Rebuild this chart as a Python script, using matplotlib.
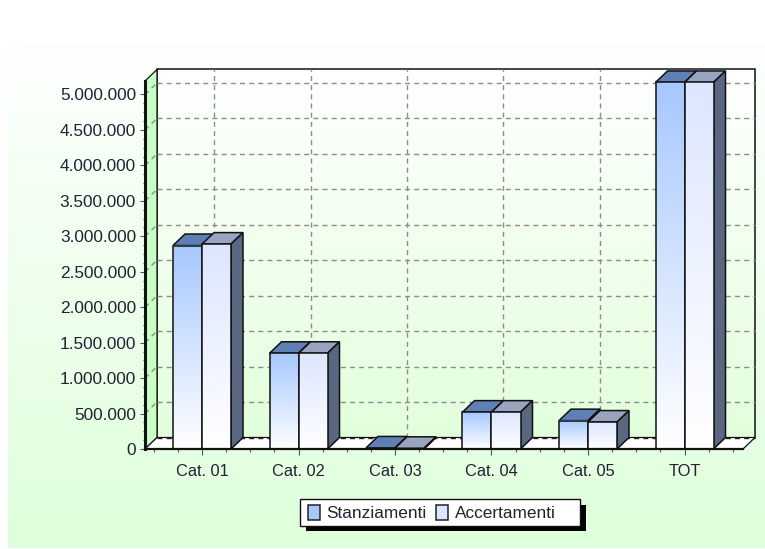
import numpy as np
import matplotlib
matplotlib.use('Agg')
import matplotlib.pyplot as plt
from matplotlib.patches import Polygon, Rectangle

categories = ['Cat. 01', 'Cat. 02', 'Cat. 03', 'Cat. 04', 'Cat. 05', 'TOT']
stanziamenti = [2870000, 1350000, 15000, 520000, 400000, 5170000]
accertamenti = [2890000, 1350000, 10000, 520000, 380000, 5170000]
y_ticks = [0, 500000, 1000000, 1500000, 2000000, 2500000, 3000000, 3500000, 4000000, 4500000, 5000000]
y_labels = ['0', '500.000', '1.000.000', '1.500.000', '2.000.000', '2.500.000',
            '3.000.000', '3.500.000', '4.000.000', '4.500.000', '5.000.000']

W, H = 765, 549
px = 72 / 100  # da pixel a punti
plt.rcParams['font.family'] = ['Liberation Sans', 'DejaVu Sans']
plt.rcParams['font.size'] = 16.4 * px

fig = plt.figure(figsize=(W / 100, H / 100), dpi=100, facecolor='white')

# sfondo a gradiente, in pixel
bg = fig.add_axes([0, 0, 1, 1], zorder=0)
grad = np.linspace(0, 1, 256).reshape(-1, 1)
c_top = np.array([1, 1, 1])
c_bot = np.array([0xde, 0xff, 0xdb]) / 255
bg.imshow(c_top + (c_bot - c_top) * np.clip((grad[..., None] - 0.05) / 0.95, 0, 1),
          extent=[8, W, 548, 0], aspect='auto')
bg.set_xlim(0, W)
bg.set_ylim(H, 0)
bg.axis('off')

# piano frontale del grafico
left, right, top, bottom = 145, 743, 81, 449
depth_x, depth_y = 12, 11.5
ax = fig.add_axes([left / W, 1 - bottom / H, (right - left) / W, (bottom - top) / H], zorder=1)
ax.patch.set_alpha(0)
for s in ax.spines.values():
    s.set_visible(False)
ax.set_xlim((left - 202) / 96.5, (right - 202) / 96.5)
ax.set_ylim(0, (bottom - top) / 354.5 * 5000000)

x0, x1 = ax.get_xlim()
y0, y1 = ax.get_ylim()
dx = depth_x * (x1 - x0) / (right - left)
dy = depth_y * (y1 - y0) / (bottom - top)

# pareti
c_wall_bot = np.array([0xe2, 0xff, 0xdc]) / 255
ax.imshow(c_top + (c_wall_bot - c_top) * grad[..., None],
          extent=[x0 + dx, x1 + dx, y0 + dy, y1 + dy], aspect='auto', zorder=1, clip_on=False)
ax.set_xlim(x0, x1)
ax.set_ylim(y0, y1)
ax.add_patch(Rectangle((x0 + dx, y0 + dy), x1 - x0, y1 - y0, fc='none', ec='#111111', lw=1.1,
                       zorder=2, clip_on=False))
ax.add_patch(Polygon([(x0, y0), (x0 + dx, y0 + dy), (x0 + dx, y1 + dy), (x0, y1)],
                     fc='#c8ffc4', ec='#111111', lw=0.9, zorder=2, clip_on=False))
ax.add_patch(Polygon([(x0, y0), (x0 + dx, y0 + dy), (x1 + dx, y0 + dy), (x1, y0)],
                     fc='white', ec='#111111', lw=0.9, zorder=2, clip_on=False))

# griglia tratteggiata
grid_style = dict(color='#8c8c8c', lw=1.0, dashes=(3.6, 3), zorder=3, clip_on=False)
for v in y_ticks[1:]:
    ax.plot([x0 + dx, x1 + dx], [v + dy, v + dy], **grid_style)
    ax.plot([x0, x0 + dx], [v, v + dy], **grid_style)
ax.plot([x0 + dx, x1 + dx], [y0 + dy, y0 + dy], color='#222222', lw=1.0, dashes=(3.6, 3), zorder=3, clip_on=False)
for i in range(len(categories)):
    ax.plot([i + dx, i + dx], [y0 + dy, y1 + dy], **grid_style)

# barre
bar_w = 29 / 96.5
series = [
    (stanziamenti, -bar_w, '#a6c8ff', '#5f7fb5', '#5f7fb5'),
    (accertamenti, 0, '#dde6ff', '#98a4c0', '#5a6780'),
]
for i in range(len(categories)):
    for values, off, col, col_top, col_side in series:
        v = values[i]
        xa, xb = i + off, i + off + bar_w
        ax.add_patch(Polygon([(xa, v), (xa + dx, v + dy), (xb + dx, v + dy), (xb, v)],
                             fc=col_top, ec='#111111', lw=1.1, zorder=4 + off, clip_on=False))
        ax.add_patch(Polygon([(xb, 0), (xb + dx, dy), (xb + dx, v + dy), (xb, v)],
                             fc=col_side, ec='#111111', lw=1.1, zorder=4 + off, clip_on=False))
        if v > 50000:
            c = np.array(matplotlib.colors.to_rgb(col))
            ax.imshow(c + (np.array([1, 1, 1]) - c) * grad[..., None], extent=[xa, xb, 0, v],
                      aspect='auto', zorder=5 + off, clip_on=False)
            ax.add_patch(Rectangle((xa, 0), bar_w, v, fc='none', ec='#111111', lw=1.1,
                                   zorder=5.1 + off, clip_on=False))
ax.set_xlim(x0, x1)
ax.set_ylim(y0, y1)

# assi
ax.plot([x0, x1], [y0, y0], color='#111111', lw=1.6, zorder=6, clip_on=False)
ax.plot([x0, x0], [y0, y1], color='#111111', lw=2.2, zorder=6, clip_on=False)
ax.set_xticks(range(len(categories)))
ax.set_xticklabels(categories, color='#222233')
ax.set_yticks(y_ticks)
ax.set_yticklabels(y_labels, color='#222233', fontsize=17.2 * px)
ax.set_xticks(np.arange(-0.5, 5.6, 0.25), minor=True)
ax.set_yticks(np.arange(0, 5100000, 125000), minor=True)
ax.tick_params(axis='x', which='major', length=6 * px, width=0.8, color='#555555', pad=9 * px)
ax.tick_params(axis='x', which='minor', length=3 * px, width=0.8, color='#555555')
ax.tick_params(axis='y', which='major', length=5 * px, width=0.8, color='#555555', pad=4 * px)
ax.tick_params(axis='y', which='minor', length=2 * px, width=0.8, color='#555555')

# legenda disegnata in pixel
leg = fig.add_axes([0, 0, 1, 1], zorder=2)
leg.set_xlim(0, W)
leg.set_ylim(H, 0)
leg.axis('off')
leg.add_patch(Rectangle((306, 505), 280, 26, fc='black', ec='none'))
leg.add_patch(Rectangle((300, 499), 280, 27, fc='white', ec='#111111', lw=1.0))
leg.add_patch(Rectangle((308, 505), 12, 15, fc='#a6c8ff', ec='#222222', lw=1.1))
leg.text(326.5, 513, 'Stanziamenti', va='center', ha='left', color='#222233', fontsize=17.2 * px)
leg.add_patch(Rectangle((436, 505), 12, 15, fc='#dde6ff', ec='#222222', lw=1.1))
leg.text(455, 513, 'Accertamenti', va='center', ha='left', color='#222233', fontsize=17.2 * px)

fig.savefig('out.png', dpi=100)
